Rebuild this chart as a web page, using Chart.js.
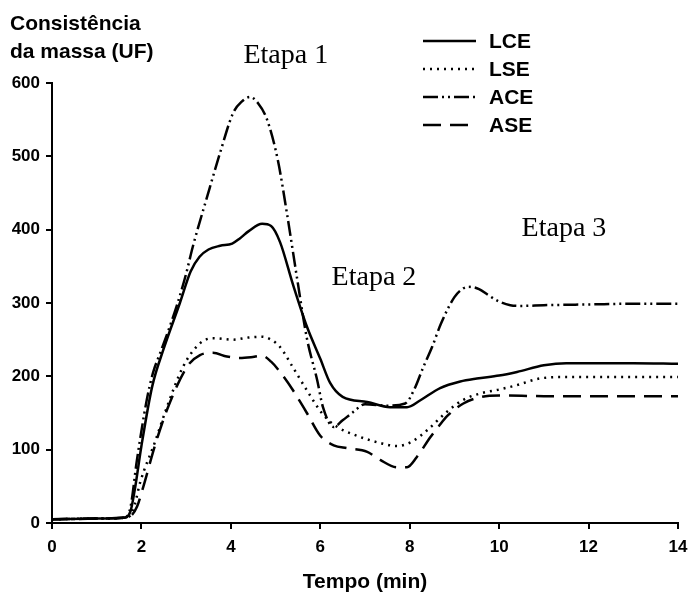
<!DOCTYPE html>
<html>
<head>
<meta charset="utf-8">
<script src="https://cdn.jsdelivr.net/npm/chart.js@4/dist/chart.umd.min.js"></script>
<style>
  html, body { margin: 0; padding: 0; background: #ffffff; }
  #wrap { width: 688px; height: 602px; }
</style>
</head>
<body>
<div id="wrap"><canvas id="chart" width="688" height="602"></canvas></div>
<script>
// Farinograph curves: dough consistency (UF) against mixing time (min)
const lceTime  = [0, 1.0, 1.6, 1.75, 1.85, 2.0, 2.24, 2.5, 2.86, 3.1, 3.3, 3.5, 3.76, 4.03, 4.2, 4.4, 4.7, 4.9, 5.1, 5.39, 5.7, 6.0, 6.22, 6.5, 7.05, 7.56, 7.94, 8.23, 8.68, 9.13, 9.5, 10.0, 10.4, 11.0, 11.5, 12.3, 13, 14];
const lceValue = [5, 6, 7, 15, 45, 105, 186, 238, 300, 343, 363, 373, 378, 381, 388, 398, 408, 405, 383, 325, 268, 224, 191, 172, 165, 158, 158, 167, 184, 193, 197, 201, 206, 215, 218, 218, 218, 217];

const lseTime  = [0, 1.0, 1.6, 1.75, 1.85, 1.97, 2.3, 2.57, 2.93, 3.31, 3.6, 4.05, 4.4, 4.7, 4.9, 5.1, 5.39, 5.7, 6.06, 6.38, 6.82, 7.34, 7.72, 8.05, 8.4, 8.8, 9.2, 9.6, 10.0, 10.4, 10.9, 11.5, 12.5, 14];
const lseValue = [5, 6, 7, 10, 25, 55, 110, 158, 213, 245, 252, 250, 253, 254, 250, 240, 212, 181, 148, 131, 119, 109, 105, 111, 127, 150, 168, 177, 182, 188, 197, 199, 199, 199];

const aceTime  = [0, 1.0, 1.6, 1.75, 1.9, 2.12, 2.26, 2.42, 2.6, 2.8, 3.0, 3.15, 3.47, 3.76, 4.05, 4.25, 4.43, 4.6, 4.81, 5.05, 5.26, 5.48, 5.7, 5.93, 6.06, 6.3, 6.5, 6.73, 7.0, 7.5, 7.9, 8.1, 8.3, 8.5, 8.7, 9.0, 9.2, 9.35, 9.55, 9.75, 10.0, 10.25, 10.5, 11, 12, 13, 14];
const aceValue = [5, 6, 7, 20, 86, 168, 205, 232, 262, 298, 340, 377, 445, 505, 559, 575, 581, 573, 550, 495, 420, 334, 252, 195, 158, 131, 140, 151, 162, 160, 163, 182, 212, 240, 272, 308, 320, 322, 319, 311, 302, 297, 296, 297, 298, 299, 299];

const aseTime  = [0, 1.0, 1.6, 1.75, 1.9, 2.04, 2.3, 2.57, 3.02, 3.31, 3.6, 3.91, 4.2, 4.45, 4.7, 4.9, 5.1, 5.39, 5.7, 6.0, 6.3, 6.6, 7.05, 7.34, 7.72, 7.94, 8.16, 8.46, 8.65, 8.84, 9.2, 9.6, 10.0, 11, 12, 13, 14];
const aseValue = [5, 6, 7, 9, 22, 49, 105, 154, 213, 229, 232, 227, 225, 226, 228, 220, 206, 181, 150, 119, 106, 102, 97, 86, 76, 76, 90, 117, 132, 146, 163, 172, 174, 173, 173, 173, 173];

const seriesNames = ['LCE', 'LSE', 'ACE', 'ASE'];
const xTicks = [0, 2, 4, 6, 8, 10, 12, 14];
const yTicks = [0, 100, 200, 300, 400, 500, 600];

// Stage annotations, placed in data units (time, consistency)
const stageLabels = ['Etapa 1', 'Etapa 2', 'Etapa 3'];
const stageTime   = [5.23, 7.2, 11.45];
const stageLevel  = [627, 325, 391];

const yTitleLines = ['Consistência', 'da massa (UF)'];

const toPoints = (t, v) => t.map((x, i) => ({ x: x, y: v[i] }));

const lineStyles = [
  { borderDash: [] },
  { borderDash: [2, 5] },
  { borderDash: [15, 4, 2, 4, 2, 4] },
  { borderDash: [18, 9] }
];
const seriesData = [
  toPoints(lceTime, lceValue),
  toPoints(lseTime, lseValue),
  toPoints(aceTime, aceValue),
  toPoints(aseTime, aseValue)
];

const datasets = seriesNames.map((name, i) => ({
  label: name,
  data: seriesData[i],
  borderColor: '#000000',
  borderWidth: 2.5,
  borderDash: lineStyles[i].borderDash,
  pointRadius: 0,
  fill: false,
  cubicInterpolationMode: 'monotone'
}));

const sansBold = (size) => 'bold ' + size + 'px "Liberation Sans", Arial, sans-serif';

// Draws the stacked legend, the axis caption and the stage labels
const annotations = {
  id: 'annotations',
  afterDraw(chart) {
    const ctx = chart.ctx;
    const xs = chart.scales.x;
    const ys = chart.scales.y;
    ctx.save();

    // y-axis caption, two lines in the top-left corner
    ctx.fillStyle = '#000';
    ctx.font = sansBold(21);
    ctx.textAlign = 'left';
    ctx.textBaseline = 'alphabetic';
    ctx.fillText(yTitleLines[0], 10, 30);
    ctx.fillText(yTitleLines[1], 10, 58);

    // legend
    chart.data.datasets.forEach((ds, i) => {
      const yy = 41 + i * 28;
      ctx.strokeStyle = '#000';
      ctx.lineWidth = 2.5;
      ctx.setLineDash(ds.borderDash || []);
      ctx.beginPath();
      ctx.moveTo(423, yy);
      ctx.lineTo(476, yy);
      ctx.stroke();
      ctx.setLineDash([]);
      ctx.font = sansBold(21);
      ctx.textBaseline = 'middle';
      ctx.fillText(ds.label, 489, yy + 1);
    });

    // stage labels
    ctx.font = '28px "Liberation Serif", "Times New Roman", serif';
    ctx.textAlign = 'center';
    ctx.textBaseline = 'alphabetic';
    stageLabels.forEach((txt, i) => {
      ctx.fillText(txt, xs.getPixelForValue(stageTime[i]), ys.getPixelForValue(stageLevel[i]));
    });
    ctx.restore();
  }
};

new Chart(document.getElementById('chart'), {
  type: 'line',
  data: { datasets: datasets },
  options: {
    responsive: false,
    animation: false,
    layout: { padding: { top: 83, right: 10, left: 0, bottom: 0 } },
    plugins: {
      legend: { display: false },
      tooltip: { enabled: false }
    },
    scales: {
      x: {
        type: 'linear',
        min: 0,
        max: 14,
        afterBuildTicks: (s) => { s.ticks = xTicks.map(v => ({ value: v })); },
        afterFit: (s) => { s.height = 79; s.paddingLeft = 0; s.paddingRight = 0; },
        border: { display: true, color: '#000', width: 2 },
        grid: { drawOnChartArea: false, drawTicks: true, tickLength: 6, color: '#000', lineWidth: 2 },
        ticks: { color: '#000', font: { family: '"Liberation Sans", Arial, sans-serif', weight: 'bold', size: 17 }, padding: 8, maxRotation: 0 },
        title: {
          display: true,
          text: 'Tempo (min)',
          color: '#000',
          font: { family: '"Liberation Sans", Arial, sans-serif', weight: 'bold', size: 21 },
          padding: { top: 0, bottom: 7 }
        }
      },
      y: {
        type: 'linear',
        min: 0,
        max: 600,
        afterBuildTicks: (s) => { s.ticks = yTicks.map(v => ({ value: v })); },
        afterFit: (s) => { s.width = 52; s.paddingTop = 0; s.paddingBottom = 0; },
        border: { display: true, color: '#000', width: 2 },
        grid: { drawOnChartArea: false, drawTicks: true, tickLength: 6, color: '#000', lineWidth: 2 },
        ticks: { color: '#000', font: { family: '"Liberation Sans", Arial, sans-serif', weight: 'bold', size: 17 }, padding: 6 }
      }
    }
  },
  plugins: [annotations]
});
</script>
</body>
</html>
